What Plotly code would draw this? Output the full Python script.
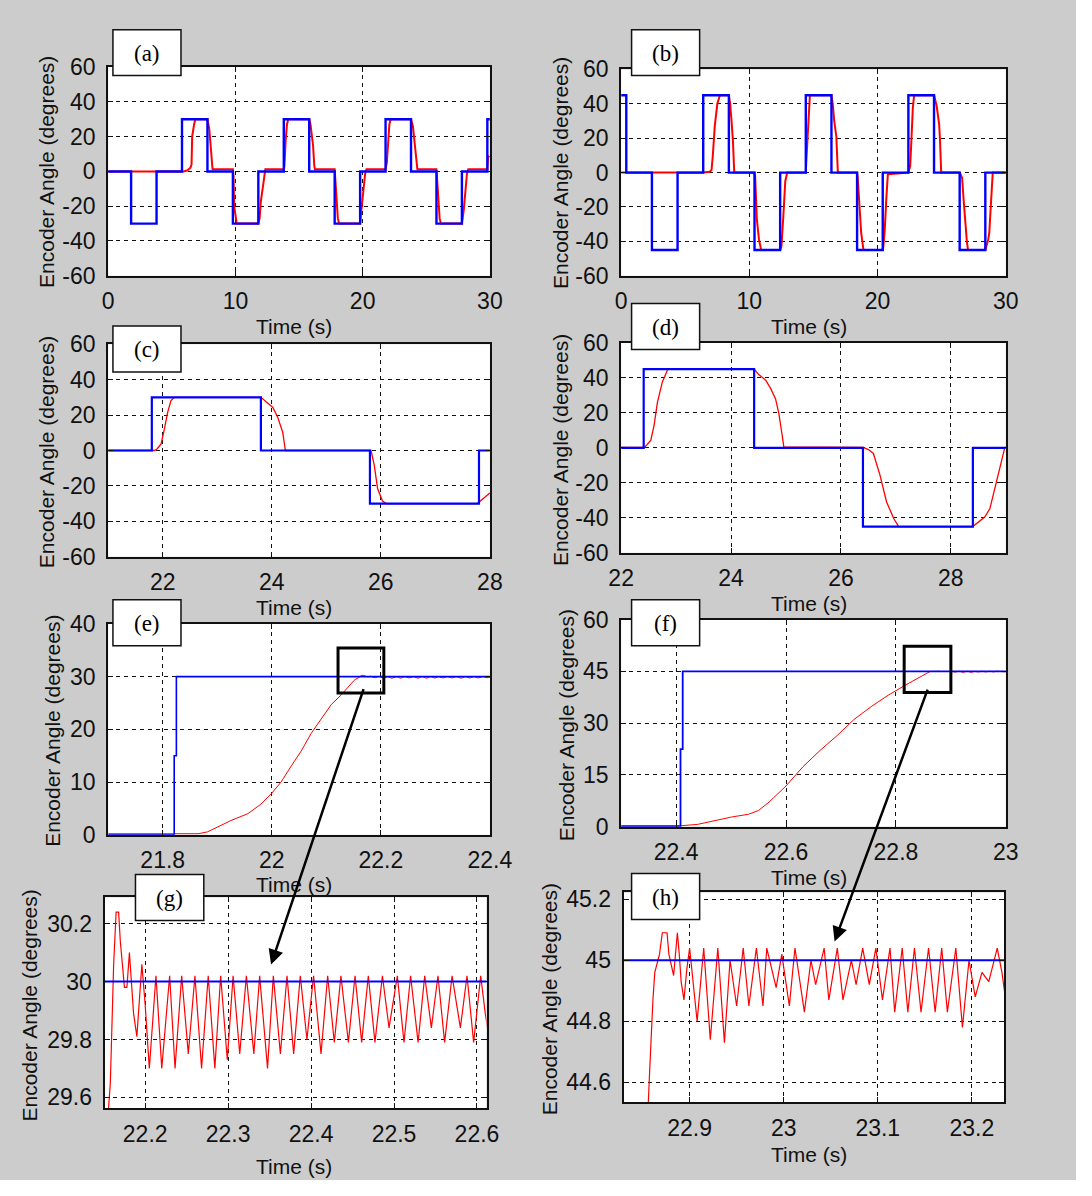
import plotly.graph_objects as go

# ------------------------------------------------------------------ data
# (a) 30 deg square-wave run, 0-30 s : reference (blue) and encoder (red)
a_ref_t = [0, 1.8, 3.8, 5.8, 7.8, 9.8, 11.8, 13.8, 15.8, 17.8, 19.8, 21.8, 23.8, 25.8, 27.8, 29.8, 30]
a_ref_y = [0, -30, 0, 30, 0, -30, 0, 30, 0, -30, 0, 30, 0, -30, 0, 30, 30]
a_enc_t = [0, 5.9, 6.2, 6.45, 6.55, 6.6, 6.75, 6.85,
           7.8, 7.85, 7.95, 8.05, 8.15, 8.2,
           9.8, 9.85, 9.9, 10.0, 10.1,
           11.8, 11.9, 12.0, 12.15, 12.25, 12.35,
           13.8, 13.85, 13.95, 14.05, 14.15,
           15.8, 15.9, 16.0, 16.1, 16.2, 16.25,
           17.8, 17.85, 17.95, 18.05, 18.15,
           19.8, 19.9, 20.05, 20.2, 20.3,
           21.8, 21.9, 22.0, 22.1, 22.2,
           23.8, 23.95, 24.05, 24.2, 24.3,
           25.8, 25.85, 25.95, 26.05, 26.15,
           27.8, 27.95, 28.1, 28.2, 28.3,
           29.8, 29.85, 29.95]
a_enc_y = [0, 0, 0.5, 2, 4, 20, 27, 30,
           30, 28, 24, 15, 3, 1.2,
           1.2, -3, -20, -27, -30,
           -30, -27, -17, -9, -1, 1.2,
           1.2, 3, 18, 27, 30,
           30, 27, 21, 15, 3, 1.2,
           1.2, -5, -20, -27, -30,
           -30, -22, -10, -1, 1.2,
           1.2, 5, 18, 27, 30,
           30, 26, 18, 6, 1.2,
           1.2, -5, -20, -27, -30,
           -30, -22, -11, -1, 1.2,
           1.2, 8, 9]

# (b) 45 deg square-wave run, 0-30 s
b_ref_t = [0, 0.4, 2.4, 4.4, 6.4, 8.4, 10.4, 12.4, 14.4, 16.4, 18.4, 20.4, 22.4, 24.4, 26.4, 28.4, 30]
b_ref_y = [45, 0, -45, 0, 45, 0, -45, 0, 45, 0, -45, 0, 45, 0, -45, 0, 0]
b_enc_t = [0, 6.4, 6.9, 7.05, 7.15, 7.3, 7.5, 7.7,
           8.4, 8.5, 8.6, 8.72, 8.82,
           10.4, 10.45, 10.58, 10.75, 10.92,
           12.4, 12.5, 12.65, 12.8, 12.95,
           14.4, 14.45, 14.57, 14.72,
           16.4, 16.5, 16.62, 16.78, 16.9,
           18.4, 18.45, 18.58, 18.72, 18.9,
           20.4, 20.45, 20.56, 20.68, 20.8,
           22.4, 22.54, 22.6, 22.66, 22.75, 22.85,
           24.4, 24.6, 24.7, 24.8, 24.86, 24.93, 24.96,
           26.4, 26.59, 26.71, 26.83, 26.96, 27.05,
           28.4, 28.62, 28.71, 28.8, 28.89, 28.98, 30]
b_enc_y = [0, 0, 0.5, 1.5, 10, 27, 40, 45,
           45, 40, 31, 18, 0,
           0, -2, -27, -39, -45,
           -45, -43, -25, -5, 0,
           0, 8, 27, 45,
           45, 40, 30, 21, 0,
           0, -3, -18, -35, -45,
           -45, -43, -33, -15, -1,
           0, 4, 13, 26, 38, 45,
           45, 39, 34, 28, 20, 7, 0,
           0, -3, -16, -31, -40, -45,
           -45, -39, -35, -23, -10, 0, 0]

# (c) close-up of the 30 deg run, 21-28 s
c_ref_t = [21, 21.8, 23.8, 25.8, 27.8, 28]
c_ref_y = [0, 30, 0, -30, 0, 0]
c_enc_t = [21, 21.85, 21.9, 21.97, 22.03, 22.09, 22.15, 22.21,
           23.8, 23.9, 24.02, 24.11, 24.2, 24.25,
           25.82, 25.88, 25.94, 26.03, 26.1,
           27.77, 27.96, 28]
c_enc_y = [0, 0, 1, 3.7, 12, 21.5, 28, 30,
           30, 27.5, 24.3, 18.7, 10.3, 0,
           0, -8.4, -21.5, -28.5, -30,
           -30, -25, -24]

# (d) close-up of the 45 deg run, 22-29 s
d_ref_t = [22, 22.41, 24.42, 26.4, 28.4, 29]
d_ref_y = [0, 45, 0, -45, 0, 0]
d_enc_t = [22, 22.42, 22.47, 22.54, 22.6, 22.66, 22.75, 22.85,
           24.42, 24.5, 24.63, 24.72, 24.81, 24.87, 24.93, 24.96,
           26.4, 26.5, 26.59, 26.71, 26.83, 26.96, 27.05,
           28.4, 28.62, 28.71, 28.8, 28.9, 28.98, 29]
d_enc_y = [0.3, 0.3, 1.7, 4.4, 13, 26, 37.7, 45,
           45, 42, 38.7, 34, 28, 19.6, 7.2, 0.6,
           0.3, -1, -3.2, -15.6, -30.9, -40.4, -45,
           -45, -39.4, -34.7, -23.2, -9.9, 0, 0.5]

# (e)/(g) 30 deg step, fine time scale
e_ref_t = [21.7, 21.821, 21.825, 22.62]
e_ref_y = [0, 15, 30, 30]
e_enc_t = [21.7, 21.865, 21.882, 21.9, 21.925, 21.956, 21.98, 22.0, 22.017,
           22.036, 22.054, 22.072, 22.091, 22.109, 22.128, 22.14, 22.15]
e_enc_y = [0.2, 0.2, 0.55, 1.5, 2.7, 4.0, 5.8, 7.9, 10.0,
           13.1, 15.9, 19.2, 22.0, 24.7, 26.6, 28.1, 29.2]
g_enc_t = [22.153, 22.158, 22.160, 22.162, 22.165, 22.168, 22.170, 22.173, 22.175,
           22.178, 22.181, 22.186, 22.190, 22.196, 22.200, 22.205, 22.213, 22.220,
           22.2295, 22.236, 22.244, 22.252, 22.260, 22.268, 22.276, 22.284, 22.291,
           22.299, 22.306, 22.314, 22.322, 22.331, 22.338, 22.3475, 22.3545, 22.363,
           22.371, 22.379, 22.387, 22.395, 22.403, 22.412, 22.420, 22.428, 22.436,
           22.445, 22.453, 22.461, 22.469, 22.477, 22.486, 22.494, 22.504, 22.512,
           22.520, 22.529, 22.537, 22.545, 22.553, 22.561, 22.570, 22.580, 22.588,
           22.596, 22.6045, 22.610, 22.615]
g_enc_y = [29.45, 29.65, 29.86, 30.06, 30.24, 30.24, 30.14, 30.05, 29.98,
           29.98, 30.10, 29.89, 29.81, 30.06, 29.92, 29.70, 30.02, 29.70,
           30.02, 29.70, 30.02, 29.75, 30.02, 29.70, 30.02, 29.70, 30.02,
           29.73, 30.02, 29.75, 30.02, 29.75, 30.02, 29.70, 30.02, 29.75,
           30.02, 29.75, 30.02, 29.80, 30.02, 29.75, 30.02, 29.79, 30.02,
           29.79, 30.02, 29.79, 30.02, 29.79, 30.02, 29.84, 30.02, 29.79,
           30.02, 29.79, 30.02, 29.84, 30.02, 29.79, 30.02, 29.84, 30.02,
           29.79, 30.02, 29.89, 29.80]

# (f)/(h) 45 deg step, fine time scale
f_ref_t = [22.3, 22.408, 22.412, 23.24]
f_ref_y = [0, 22.5, 45, 45]
f_enc_t = [22.3, 22.411, 22.439, 22.47, 22.501, 22.532, 22.55, 22.569, 22.6,
           22.631, 22.662, 22.693, 22.724, 22.755, 22.786, 22.817, 22.841, 22.852]
f_enc_y = [0.3, 0.3, 0.66, 1.7, 2.8, 3.6, 4.7, 7.1, 11.8,
           17.4, 22.1, 26.4, 31.1, 34.8, 38.1, 41.0, 43.1, 44.3]
h_enc_t = [22.855, 22.857, 22.859, 22.861, 22.863, 22.866, 22.868, 22.871, 22.876,
           22.878, 22.881, 22.883, 22.885, 22.887, 22.889, 22.891, 22.894, 22.897,
           22.900, 22.905, 22.908, 22.915, 22.922, 22.930, 22.937, 22.943, 22.950,
           22.957, 22.963, 22.971, 22.978, 22.982, 22.992, 22.998, 23.006, 23.012,
           23.022, 23.029, 23.034, 23.043, 23.048, 23.057, 23.063, 23.072, 23.077,
           23.084, 23.091, 23.098, 23.105, 23.113, 23.118, 23.126, 23.132, 23.139,
           23.146, 23.154, 23.161, 23.168, 23.174, 23.183, 23.190, 23.197, 23.2036,
           23.2108, 23.218, 23.227, 23.232, 23.236]
h_enc_y = [44.45, 44.60, 44.75, 44.87, 44.96, 45.00, 45.02, 45.09, 45.09,
           45.02, 44.97, 44.95, 45.02, 45.09, 45.02, 44.93, 44.87, 44.97,
           45.04, 44.89, 44.80, 45.04, 44.74, 45.04, 44.73, 45.00, 44.85,
           45.04, 44.85, 45.04, 44.85, 45.04, 44.91, 45.02, 44.85, 45.04,
           44.83, 45.00, 44.92, 45.04, 44.87, 45.04, 44.87, 45.00, 44.92,
           45.04, 44.92, 45.04, 44.87, 45.04, 44.83, 45.04, 44.83, 45.04,
           44.83, 45.04, 44.83, 45.04, 44.83, 45.04, 44.78, 45.00, 44.88,
           44.96, 44.93, 45.04, 44.96, 44.87]

# tick values / labels
t30_ticks = [0, 10, 20, 30]
t30_text = ["0", "10", "20", "30"]
deg60_ticks = [-60, -40, -20, 0, 20, 40, 60]
deg60_text = ["-60", "-40", "-20", "0", "20", "40", "60"]
cd_ticks = [22, 24, 26, 28]
cd_text = ["22", "24", "26", "28"]
e_xticks = [21.8, 22, 22.2, 22.4]
e_xtext = ["21.8", "22", "22.2", "22.4"]
e_yticks = [0, 10, 20, 30, 40]
e_ytext = ["0", "10", "20", "30", "40"]
f_xticks = [22.4, 22.6, 22.8, 23]
f_xtext = ["22.4", "22.6", "22.8", "23"]
f_yticks = [0, 15, 30, 45, 60]
f_ytext = ["0", "15", "30", "45", "60"]
g_xticks = [22.2, 22.3, 22.4, 22.5, 22.6]
g_xtext = ["22.2", "22.3", "22.4", "22.5", "22.6"]
g_yticks = [29.6, 29.8, 30, 30.2]
g_ytext = ["29.6", "29.8", "30", "30.2"]
h_xticks = [22.9, 23, 23.1, 23.2]
h_xtext = ["22.9", "23", "23.1", "23.2"]
h_yticks = [44.6, 44.8, 45, 45.2]
h_ytext = ["44.6", "44.8", "45", "45.2"]

panel_labels = ["(a)", "(b)", "(c)", "(d)", "(e)", "(f)", "(g)", "(h)"]
x_title = "Time (s)"
y_title = "Encoder Angle (degrees)"

# ------------------------------------------------------------------ layout
# The page keeps the browser's default 8 px body margin, so the figure is
# 16 px smaller than the window; positions below are window pixels.
WIN_W, WIN_H = 1092, 1196
OX, OY = 8, 8
W, H = WIN_W - 2 * OX, WIN_H - 2 * OY


def px(x):
    return (x - OX) / W


def py(y):
    return 1 - (y - OY) / H


SANS = "Liberation Sans, Arial, sans-serif"
SERIF = "Liberation Serif, Times New Roman, serif"
INK = "#111111"

panels = [
    dict(box=(106.5, 501.4, 63.3, 276.7), xr=[0, 30], yr=[-60, 60],
         xt=(t30_ticks, t30_text), yt=(deg60_ticks, deg60_text),
         enc=(a_enc_t, a_enc_y), ref=(a_ref_t, a_ref_y), lw=(2, 2.4),
         label=(111.4, 181.8, 25, 72), xlab=(298.5, 329), ylab=(42.7, 171)),
    dict(box=(637.2, 1035.2, 65.7, 276.7), xr=[0, 30], yr=[-60, 60],
         xt=(t30_ticks, t30_text), yt=(deg60_ticks, deg60_text),
         enc=(b_enc_t, b_enc_y), ref=(b_ref_t, b_ref_y), lw=(2, 2.4),
         label=(648, 718.4, 25, 72), xlab=(831.5, 329), ylab=(573.9, 171.7)),
    dict(box=(106.5, 501.4, 346.7, 564), xr=[21, 28], yr=[-60, 60],
         xt=(cd_ticks, cd_text), yt=(deg60_ticks, deg60_text),
         enc=(c_enc_t, c_enc_y), ref=(c_ref_t, c_ref_y), lw=(1.3, 2.2),
         label=(111.4, 181.8, 328, 375), xlab=(298.5, 616), ylab=(42.7, 457.5)),
    dict(box=(637.2, 1035.2, 345.3, 560), xr=[22, 29], yr=[-60, 60],
         xt=(cd_ticks, cd_text), yt=(deg60_ticks, deg60_text),
         enc=(d_enc_t, d_enc_y), ref=(d_ref_t, d_ref_y), lw=(1.3, 2.2),
         label=(648, 718.4, 305, 352), xlab=(831.5, 612), ylab=(573.9, 455)),
    dict(box=(106.5, 501.4, 632.7, 848.3), xr=[21.7, 22.4], yr=[0, 40],
         xt=(e_xticks, e_xtext), yt=(e_yticks, e_ytext),
         enc=(e_enc_t + g_enc_t, e_enc_y + g_enc_y), ref=(e_ref_t, e_ref_y), lw=(1, 1.6),
         label=(111.4, 181.8, 608, 655), xlab=(298.5, 899), ylab=(48.7, 741.7)),
    dict(box=(637.2, 1035.2, 628.3, 840), xr=[22.3, 23], yr=[0, 60],
         xt=(f_xticks, f_xtext), yt=(f_yticks, f_ytext),
         enc=(f_enc_t + h_enc_t, f_enc_y + h_enc_y), ref=(f_ref_t, f_ref_y), lw=(1, 1.8),
         label=(648, 718.4, 608, 655), xlab=(831.5, 892), ylab=(580.8, 736.7)),
    dict(box=(102.7, 497.9, 912.3, 1127.7), xr=[22.151, 22.6115], yr=[29.563, 30.291],
         xt=(g_xticks, g_xtext), yt=(g_yticks, g_ytext),
         enc=(e_enc_t + g_enc_t, e_enc_y + g_enc_y), ref=(e_ref_t, e_ref_y), lw=(1.2, 2),
         label=(134.7, 205.4, 889, 936), xlab=(298.5, 1187), ylab=(25.2, 1023.3)),
    dict(box=(639.7, 1033.5, 907.3, 1121.7), xr=[22.8298, 23.2344], yr=[44.535, 45.222],
         xt=(h_xticks, h_xtext), yt=(h_yticks, h_ytext),
         enc=(f_enc_t + h_enc_t, f_enc_y + h_enc_y), ref=(f_ref_t, f_ref_y), lw=(1.2, 2),
         label=(648, 718.4, 888, 935), xlab=(831.5, 1175), ylab=(563.4, 1016.7)),
]

common_axis = dict(
    showline=True, mirror="ticks", linecolor=INK, linewidth=2,
    ticks="inside", ticklen=5, tickwidth=1, tickcolor=INK,
    showgrid=True, gridcolor=INK, gridwidth=1.2, griddash="4px,4px",
    zeroline=False, tickmode="array", fixedrange=True,
    tickfont=dict(family=SANS, size=23, color=INK),
)

fig = go.Figure()
layout = dict(
    width=W, height=H, autosize=False,
    margin=dict(l=0, r=0, t=0, b=0, pad=0),
    paper_bgcolor="#cccccc", plot_bgcolor="#ffffff",
    showlegend=False,
)
shapes = []
annotations = []

for i, p in enumerate(panels, start=1):
    xa = "xaxis" if i == 1 else f"xaxis{i}"
    ya = "yaxis" if i == 1 else f"yaxis{i}"
    xr_ = "x" if i == 1 else f"x{i}"
    yr_ = "y" if i == 1 else f"y{i}"
    x0, x1, top, bot = p["box"]
    layout[xa] = dict(common_axis, domain=[px(x0), px(x1)], anchor=yr_, range=p["xr"],
                      tickvals=p["xt"][0], ticktext=p["xt"][1], ticklabelstandoff=4)
    layout[ya] = dict(common_axis, domain=[py(bot), py(top)], anchor=xr_, range=p["yr"],
                      tickvals=p["yt"][0], ticktext=p["yt"][1], ticklabelstandoff=6)
    et, ey = p["enc"]
    rt, ry = p["ref"]
    fig.add_trace(go.Scatter(x=et, y=ey, xaxis=xr_, yaxis=yr_, mode="lines",
                             line=dict(color="#ff0000", width=p["lw"][0]),
                             hoverinfo="skip"))
    fig.add_trace(go.Scatter(x=rt, y=ry, xaxis=xr_, yaxis=yr_, mode="lines",
                             line=dict(color="#0000ff", width=p["lw"][1], shape="hv"),
                             hoverinfo="skip"))
    # panel label box
    lx0, lx1, ly0, ly1 = p["label"]
    shapes.append(dict(type="rect", xref="paper", yref="paper",
                       x0=px(lx0), x1=px(lx1), y0=py(ly1), y1=py(ly0),
                       fillcolor="white", line=dict(color=INK, width=1.5), layer="above"))
    annotations.append(dict(xref="paper", yref="paper", x=px((lx0 + lx1) / 2),
                            y=py((ly0 + ly1) / 2 + 1), text=panel_labels[i - 1], showarrow=False,
                            xanchor="center", yanchor="middle",
                            font=dict(family=SERIF, size=23, color="#000")))
    # axis titles
    annotations.append(dict(xref="paper", yref="paper", x=px(p["xlab"][0]), y=py(p["xlab"][1]),
                            text=x_title, showarrow=False, xanchor="center", yanchor="middle",
                            font=dict(family=SANS, size=21, color=INK)))
    annotations.append(dict(xref="paper", yref="paper", x=px(p["ylab"][0]), y=py(p["ylab"][1]),
                            text=y_title, showarrow=False, xanchor="center", yanchor="middle",
                            textangle=-90, font=dict(family=SANS, size=21, color=INK)))

# zoom rectangles in (e) and (f)
shapes.append(dict(type="rect", xref="x5", yref="y5", x0=22.1215, x1=22.2055, y0=26.9, y1=35.45,
                   line=dict(color="#000", width=3), fillcolor="rgba(0,0,0,0)", layer="above"))
shapes.append(dict(type="rect", xref="x6", yref="y6", x0=22.815, x1=22.9, y0=38.9, y1=52.3,
                   line=dict(color="#000", width=3), fillcolor="rgba(0,0,0,0)", layer="above"))

# arrows from the zoom boxes to the close-ups
for tail, tip in [((368, 704), (275, 981)), ((951.6, 704), (858, 957.5))]:
    annotations.append(dict(xref="paper", yref="paper", x=px(tip[0]), y=py(tip[1]),
                            ax=tail[0] - tip[0], ay=tail[1] - tip[1], axref="pixel", ayref="pixel",
                            text="", showarrow=True, arrowhead=2, arrowsize=1.2,
                            arrowwidth=2.5, arrowcolor="#000", standoff=0))

layout["shapes"] = shapes
layout["annotations"] = annotations
fig.update_layout(**layout)
fig.write_html("out.html", config={"displayModeBar": False})
